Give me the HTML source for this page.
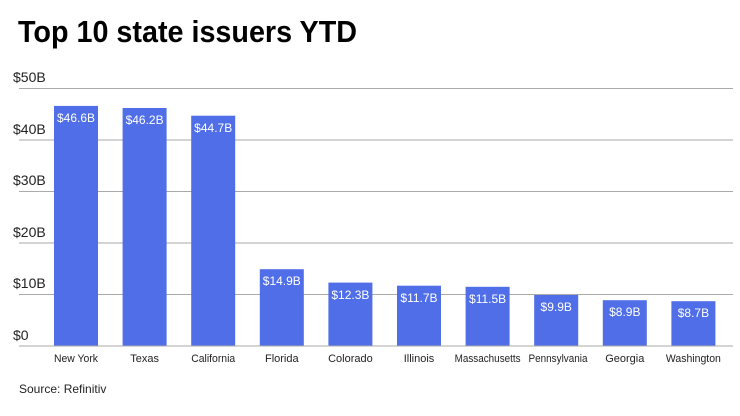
<!DOCTYPE html>
<html><head><style>
body{margin:0;background:#fff;}
svg{display:block;font-family:"Liberation Sans",sans-serif;}
</style></head><body>
<svg width="740" height="416" xmlns="http://www.w3.org/2000/svg">
<text x="18" y="42" font-size="31" font-weight="bold" fill="#000" textLength="339" lengthAdjust="spacingAndGlyphs">Top 10 state issuers YTD</text>
<g stroke="#aaa" stroke-width="1">
<line x1="19" x2="733" y1="88.5" y2="88.5"/>
<line x1="19" x2="733" y1="140" y2="140"/>
<line x1="19" x2="733" y1="191.5" y2="191.5"/>
<line x1="19" x2="733" y1="243" y2="243"/>
<line x1="19" x2="733" y1="294.5" y2="294.5"/>
</g>
<g font-size="14" fill="#222">
<text x="13" y="82">$50B</text>
<text x="13" y="134">$40B</text>
<text x="13" y="185">$30B</text>
<text x="13" y="237">$20B</text>
<text x="13" y="288">$10B</text>
<text x="13" y="340">$0</text>
</g>
<g fill="#4f6ee8">
<rect x="54" y="105.9" width="44" height="240.1"/>
<rect x="122.6" y="108" width="44" height="238"/>
<rect x="191.2" y="115.7" width="44" height="230.3"/>
<rect x="259.8" y="269.2" width="44" height="76.8"/>
<rect x="328.4" y="282.6" width="44" height="63.4"/>
<rect x="397" y="285.7" width="44" height="60.3"/>
<rect x="465.6" y="286.8" width="44" height="59.2"/>
<rect x="534.2" y="295" width="44" height="51"/>
<rect x="602.8" y="300.2" width="44" height="45.8"/>
<rect x="671.4" y="301.2" width="44" height="44.8"/>
</g>
<line x1="19" x2="733" y1="346" y2="346" stroke="#aaa"/>
<g font-size="12" fill="#fff" text-anchor="middle">
<text x="76" y="122">$46.6B</text>
<text x="144.6" y="124">$46.2B</text>
<text x="213.2" y="132">$44.7B</text>
<text x="281.8" y="285">$14.9B</text>
<text x="350.4" y="299">$12.3B</text>
<text x="419" y="302">$11.7B</text>
<text x="487.6" y="303">$11.5B</text>
<text x="556.2" y="311">$9.9B</text>
<text x="624.8" y="316">$8.9B</text>
<text x="693.4" y="317">$8.7B</text>
</g>
<g font-size="11" fill="#222" text-anchor="middle">
<text x="76" y="362" textLength="44" lengthAdjust="spacingAndGlyphs">New York</text>
<text x="144.6" y="362">Texas</text>
<text x="213.2" y="362" textLength="44" lengthAdjust="spacingAndGlyphs">California</text>
<text x="281.8" y="362">Florida</text>
<text x="350.4" y="362">Colorado</text>
<text x="419" y="362">Illinois</text>
<text x="487.6" y="362" textLength="66" lengthAdjust="spacingAndGlyphs">Massachusetts</text>
<text x="558" y="362" textLength="59" lengthAdjust="spacingAndGlyphs">Pennsylvania</text>
<text x="624.8" y="362">Georgia</text>
<text x="693.4" y="362" textLength="55" lengthAdjust="spacingAndGlyphs">Washington</text>
</g>
<text x="19" y="393" font-size="12" fill="#222">Source: Refinitiv</text>
</svg>
</body></html>
